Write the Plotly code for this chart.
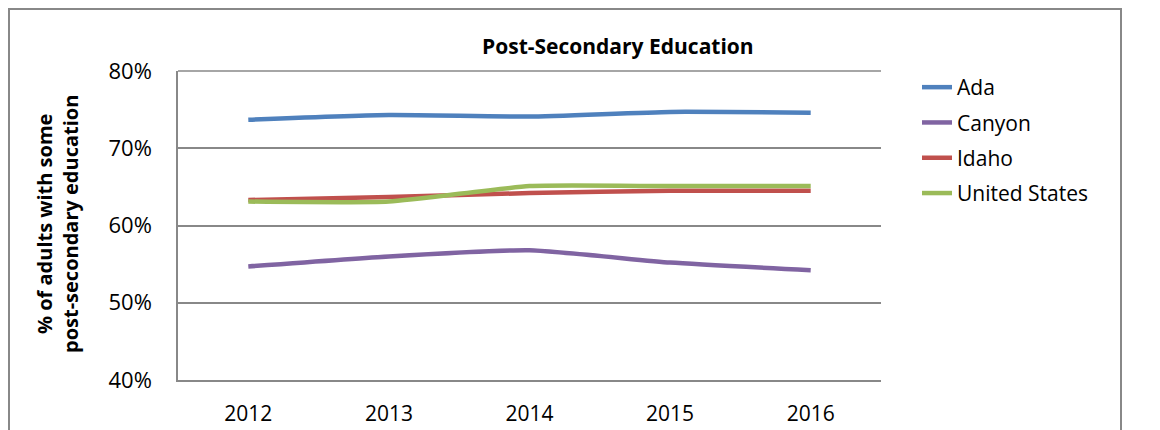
import plotly.graph_objects as go

years = ["2012", "2013", "2014", "2015", "2016"]
ada = [0.737, 0.743, 0.741, 0.747, 0.746]
canyon = [0.547, 0.560, 0.568, 0.552, 0.542]
idaho = [0.633, 0.637, 0.642, 0.645, 0.645]
united_states = [0.631, 0.631, 0.651, 0.651, 0.651]

series_names = ["Ada", "Canyon", "Idaho", "United States"]
series_values = [ada, canyon, idaho, united_states]
colors = ["#4F81BD", "#8064A2", "#C0504D", "#9BBB59"]

FONT = "Open Sans"
OFF = 8  # page body margin
W, H = 1160 - OFF, 430 - OFF
# desired page pixel positions of the plot area
L, R, T, B = 178, 881, 71, 380

fig = go.Figure()
for name, vals, col in zip(series_names, series_values, colors):
    fig.add_trace(go.Scatter(
        x=years, y=vals, name=name, mode="lines",
        line=dict(color=col, width=4.5, shape="spline", smoothing=0.5),
        legendgroup=name,
    ))

pw = R - L
ph = B - T

def px_x(x):
    return (x - L) / pw

def px_y(y):
    return (B - y) / ph

fig.update_layout(
    width=W, height=H,
    margin=dict(l=L - OFF, r=W - (R - OFF), t=T - OFF, b=H - (B - OFF)),
    paper_bgcolor="white", plot_bgcolor="white",
    font=dict(family=FONT, color="#000000", size=22),
    showlegend=True,
    legend=dict(
        x=px_x(917), y=px_y(67), xanchor="left", yanchor="top",
        font=dict(size=21, family=FONT),
        tracegroupgap=5, bgcolor="rgba(0,0,0,0)",
    ),
    xaxis=dict(
        type="category", range=[-0.5, 4.5], automargin=False,
        showline=True, linecolor="#888888", linewidth=1.5,
        showgrid=False, ticks="", ticklabelstandoff=14,
        tickfont=dict(size=21, family=FONT),
        fixedrange=True,
    ),
    yaxis=dict(
        range=[0.4, 0.8], dtick=0.1, tick0=0.4, tickformat=".0%",
        automargin=False,
        showline=True, linecolor="#888888", linewidth=1.5,
        showgrid=True, gridcolor="#888888", gridwidth=1.5,
        ticks="", ticklabelstandoff=20,
        tickfont=dict(size=22, family=FONT),
        zeroline=False, fixedrange=True,
    ),
    annotations=[
        dict(
            text="<b>Post-Secondary Education</b>",
            x=px_x(618), y=px_y(46), xref="paper", yref="paper",
            xanchor="center", yanchor="middle", showarrow=False,
            font=dict(size=21, family=FONT, color="#000000"),
        ),
        dict(
            text="<b>% of adults with some<br>post-secondary education</b>",
            x=px_x(57), y=px_y(224), xref="paper", yref="paper",
            xanchor="center", yanchor="middle", showarrow=False,
            textangle=-90,
            font=dict(size=20, family=FONT, color="#000000"),
        ),
    ],
    shapes=[
        dict(type="rect", xref="paper", yref="paper",
             x0=px_x(OFF + 1), x1=px_x(1121), y0=px_y(445), y1=px_y(OFF + 1),
             line=dict(color="#888888", width=2), fillcolor="rgba(0,0,0,0)",
             layer="below"),
        dict(type="line", xref="paper", yref="paper",
             x0=0, x1=1, y0=1, y1=1,
             line=dict(color="#888888", width=1.5), layer="below"),
    ],
)

fig.write_html("out.html")
